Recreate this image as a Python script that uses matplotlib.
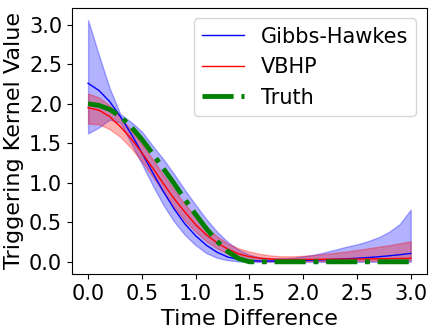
import matplotlib
matplotlib.use("Agg")
import matplotlib.pyplot as plt
import numpy as np

# time grid (step 0.1)
time_diff = [0.0, 0.1, 0.2, 0.3, 0.4, 0.5, 0.6, 0.7, 0.8, 0.9, 1.0,
             1.1, 1.2, 1.3, 1.4, 1.5, 1.6, 1.7, 1.8, 1.9, 2.0,
             2.1, 2.2, 2.3, 2.4, 2.5, 2.6, 2.7, 2.8, 2.9, 3.0]

gibbs_mean = [2.26, 2.17, 2.03, 1.84, 1.62, 1.38, 1.13, 0.89, 0.67, 0.48, 0.33,
              0.21, 0.12, 0.06, 0.03, 0.015, 0.01, 0.01, 0.012, 0.015, 0.018,
              0.022, 0.027, 0.032, 0.038, 0.045, 0.054, 0.064, 0.076, 0.09, 0.106]
gibbs_upper = [3.06, 2.62, 2.20, 1.87, 1.77, 1.65, 1.47, 1.30, 1.11, 0.91, 0.72,
               0.54, 0.38, 0.25, 0.15, 0.09, 0.055, 0.045, 0.045, 0.05, 0.07,
               0.09, 0.12, 0.155, 0.19, 0.22, 0.26, 0.31, 0.38, 0.48, 0.66]
gibbs_lower = [1.625, 1.70, 1.80, 1.76, 1.50, 1.24, 0.97, 0.72, 0.51, 0.34, 0.21,
               0.11, 0.05, 0.02, 0.005, 0.0, 0.0, 0.0, 0.0, 0.0, 0.0,
               0.0, 0.0, 0.0, 0.0, 0.0, 0.0, 0.0, 0.0, 0.0, 0.0]

vbhp_mean = [1.95, 1.92, 1.84, 1.71, 1.56, 1.38, 1.19, 0.99, 0.80, 0.63, 0.47,
             0.34, 0.24, 0.16, 0.10, 0.065, 0.045, 0.035, 0.03, 0.03, 0.03,
             0.031, 0.032, 0.033, 0.034, 0.035, 0.037, 0.038, 0.04, 0.042, 0.045]
vbhp_upper = [2.13, 2.08, 1.98, 1.83, 1.67, 1.49, 1.30, 1.10, 0.91, 0.73, 0.57,
              0.43, 0.32, 0.23, 0.17, 0.13, 0.10, 0.08, 0.07, 0.07, 0.075,
              0.085, 0.10, 0.115, 0.13, 0.15, 0.17, 0.19, 0.21, 0.235, 0.26]
vbhp_lower = [1.75, 1.74, 1.68, 1.58, 1.44, 1.27, 1.08, 0.88, 0.69, 0.52, 0.38,
              0.26, 0.17, 0.10, 0.05, 0.02, 0.01, 0.008, 0.008, 0.008, 0.01,
              0.01, 0.01, 0.012, 0.012, 0.013, 0.014, 0.015, 0.016, 0.018, 0.02]

truth = [2.0, 1.98, 1.93, 1.84, 1.71, 1.55, 1.37, 1.18, 0.99, 0.79, 0.60,
         0.42, 0.26, 0.13, 0.04, 0.0, 0.0, 0.0, 0.0, 0.0, 0.0,
         0.0, 0.0, 0.0, 0.0, 0.0, 0.0, 0.0, 0.0, 0.0, 0.0]

plt.rcParams['font.family'] = 'DejaVu Sans'

fig = plt.figure(figsize=(4.36, 3.32), dpi=100)
ax = fig.add_axes([0.165, 0.175, 0.814, 0.801])

ax.plot(time_diff, gibbs_mean, color='blue', lw=1, label='Gibbs-Hawkes')
ax.fill_between(time_diff, gibbs_lower, gibbs_upper, color='blue', alpha=0.3)
ax.plot(time_diff, vbhp_mean, color='red', lw=1, label='VBHP')
ax.fill_between(time_diff, vbhp_lower, vbhp_upper, color='red', alpha=0.3)
ax.plot(time_diff, truth, color='green', lw=3.5, ls='-.', label='Truth')

ax.set_xticks(np.arange(0, 3.01, 0.5))
ax.set_yticks(np.arange(0, 3.01, 0.5))
ax.tick_params(labelsize=15)
ax.set_xlabel('Time Difference', fontsize=16)
ax.set_ylabel('Triggering Kernel Value', fontsize=16)
ax.legend(loc='upper right', fontsize=15)

plt.savefig('out.png', dpi=100)
